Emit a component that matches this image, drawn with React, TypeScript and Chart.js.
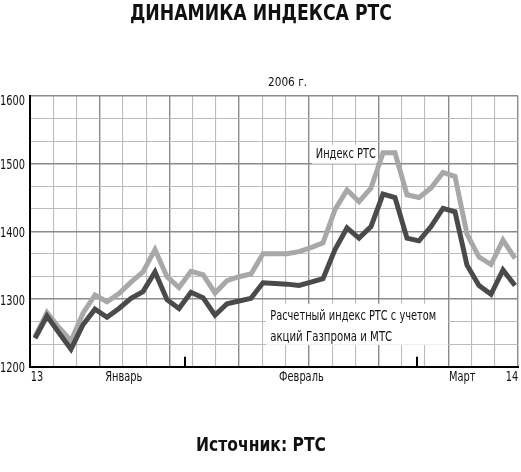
import React, { useEffect, useRef } from "react";
import { Chart, registerables } from "chart.js";

Chart.register(...registerables);

// Trading days, 13 Jan – 14 Mar 2006
const tradingDays = [
  "13.01", "16.01", "17.01", "18.01", "19.01", "20.01", "23.01", "24.01", "25.01", "26.01", "27.01", "30.01", "31.01",
  "01.02", "02.02", "03.02", "06.02", "07.02", "08.02", "09.02", "10.02", "13.02", "14.02", "15.02", "16.02", "17.02",
  "20.02", "21.02", "22.02", "24.02", "27.02", "28.02",
  "01.03", "02.03", "03.03", "06.03", "07.03", "09.03", "10.03", "13.03", "14.03",
];

// Индекс РТС
const rtsIndex = [
  1244, 1280, 1258, 1238, 1279, 1306, 1296, 1308, 1325, 1340, 1373, 1333, 1317,
  1341, 1336, 1309, 1327, 1333, 1337, 1367, 1367, 1367, 1370, 1376, 1383, 1432,
  1461, 1444, 1464, 1516, 1516, 1454,
  1450, 1464, 1487, 1481, 1396, 1362, 1351, 1387, 1360,
];

// Расчетный индекс РТС с учетом акций Газпрома и МТС
const rtsAdjusted = [
  1242, 1275, 1250, 1226, 1262, 1285, 1273, 1286, 1301, 1311, 1340, 1299, 1286,
  1310, 1302, 1276, 1293, 1297, 1301, 1324, 1323, 1322, 1320, 1325, 1330, 1373,
  1405, 1390, 1407, 1455, 1450, 1390,
  1386, 1407, 1434, 1429, 1350, 1320, 1307, 1343, 1320,
];

const yTickValues = [1200, 1300, 1400, 1500, 1600];
const xTickLabels = ["13", "Январь", "Февраль", "Март", "14"];
const xTickPositions = [0.17, 7.4, 22.2, 35.6, 39.75];
const monthBoundaries = [12.5, 31.8];

const titleText = "ДИНАМИКА ИНДЕКСА РТС";
const yearText = "2006 г.";
const sourceText = "Источник: РТС";
const seriesLabel1 = "Индекс РТС";
const seriesLabel2Lines = ["Расчетный индекс РТС с учетом", "акций Газпрома и МТС"];

const FONT = "'Liberation Sans Narrow', 'DejaVu Sans Condensed', 'Liberation Sans', sans-serif";
const TICK_SCALE = 0.78;

function drawText(
  ctx: CanvasRenderingContext2D,
  text: string,
  x: number,
  y: number,
  font: string,
  opts: { width?: number; scale?: number; align: "left" | "center" | "right" }
) {
  ctx.save();
  ctx.font = font;
  ctx.textBaseline = "middle";
  ctx.textAlign = "left";
  const w = ctx.measureText(text).width;
  const sx = opts.width ? opts.width / w : opts.scale || 1;
  const drawW = w * sx;
  const left = opts.align === "center" ? x - drawW / 2 : opts.align === "right" ? x - drawW : x;
  ctx.translate(left, y);
  ctx.scale(sx, 1);
  ctx.fillText(text, 0, 0);
  ctx.restore();
}

const decorPlugin = {
  id: "decor",
  beforeDatasetsDraw(chart: any) {
    const ctx = chart.ctx as CanvasRenderingContext2D;
    const xs = chart.scales.x;
    const ys = chart.scales.y;
    ctx.save();
    ctx.fillStyle = "#ffffff";
    // label boxes (hide grid behind text)
    const b1x = xs.getPixelForValue(23.1);
    const b1y = ys.getPixelForValue(1528);
    ctx.fillRect(b1x, b1y, 64, 19);
    const b2x = xs.getPixelForValue(19.25);
    const b2y = ys.getPixelForValue(1293);
    ctx.fillRect(b2x, b2y, 182, 41);
    ctx.restore();
  },
  afterDraw(chart: any) {
    const ctx = chart.ctx as CanvasRenderingContext2D;
    const xs = chart.scales.x;
    const ys = chart.scales.y;
    const area = chart.chartArea;
    ctx.save();
    ctx.fillStyle = "#111111";
    drawText(ctx, titleText, 261, 15, `bold 21px ${FONT}`, { width: 262, align: "center" });
    drawText(ctx, yearText, 287.5, 83, `13px ${FONT}`, { width: 39, align: "center" });
    drawText(ctx, sourceText, 261, 446, `bold 19px ${FONT}`, { width: 130, align: "center" });
    drawText(ctx, seriesLabel1, xs.getPixelForValue(23.4), ys.getPixelForValue(1514), `14px ${FONT}`, { width: 60, align: "left" });
    drawText(ctx, seriesLabel2Lines[0], xs.getPixelForValue(19.6), ys.getPixelForValue(1275), `14px ${FONT}`, { width: 166, align: "left" });
    drawText(ctx, seriesLabel2Lines[1], xs.getPixelForValue(19.6), ys.getPixelForValue(1243), `14px ${FONT}`, { width: 122, align: "left" });

    // y tick labels
    for (const v of yTickValues) {
      const py = Math.max(ys.getPixelForValue(v) + 2, area.top + 5);
      drawText(ctx, String(v), area.left - 5, py, `14px ${FONT}`, { scale: TICK_SCALE, align: "right" });
    }
    // x tick labels
    xTickPositions.forEach((p, i) => {
      drawText(ctx, xTickLabels[i], xs.getPixelForValue(p), area.bottom + 11, `14px ${FONT}`, { scale: TICK_SCALE, align: "center" });
    });

    // month boundary ticks
    ctx.strokeStyle = "#000000";
    ctx.lineWidth = 2;
    for (const m of monthBoundaries) {
      const px = Math.round(xs.getPixelForValue(m));
      ctx.beginPath();
      ctx.moveTo(px, area.bottom);
      ctx.lineTo(px, area.bottom - 10);
      ctx.stroke();
    }
    ctx.restore();
  },
};

const gridColor = (ctx: any) => (ctx.tick && ctx.tick.value % 3 === 0 ? "#8a8a8a" : "#bcbcbc");
const gridWidth = (ctx: any) => (ctx.tick && ctx.tick.value % 3 === 0 ? 1.4 : 1.1);

export default function App() {
  const ref = useRef<HTMLCanvasElement | null>(null);
  useEffect(() => {
    if (!ref.current) return;
    const chart = new Chart(ref.current, {
      type: "line",
      data: {
        datasets: [
          {
            label: seriesLabel2Lines.join(" "),
            data: tradingDays.map((_, i) => ({ x: i, y: rtsAdjusted[i] })),
            borderColor: "#4a4a4a",
            borderWidth: 5,
            pointRadius: 0,
            tension: 0,
            borderJoinStyle: "miter",
            xAxisID: "x",
            yAxisID: "y",
            order: 1,
          },
          {
            label: seriesLabel1,
            data: tradingDays.map((_, i) => ({ x: i, y: rtsIndex[i] })),
            borderColor: "#a8a8a8",
            borderWidth: 5,
            pointRadius: 0,
            tension: 0,
            borderJoinStyle: "miter",
            xAxisID: "x",
            yAxisID: "y",
            order: 2,
          },
        ],
      },
      options: {
        responsive: false,
        animation: false,
        layout: { padding: { top: 96, right: 3, left: 0, bottom: 0 } },
        plugins: { legend: { display: false }, tooltip: { enabled: false }, title: { display: false } },
        scales: {
          xg: {
            type: "linear",
            position: "bottom",
            min: 0,
            max: 21,
            ticks: { display: false, stepSize: 1 },
            grid: { color: gridColor, lineWidth: gridWidth, drawTicks: false },
            border: { display: false },
            afterFit: (s: any) => { s.height = 0; },
          },
          yg: {
            type: "linear",
            position: "left",
            min: 0,
            max: 12,
            ticks: { display: false, stepSize: 1 },
            grid: { color: gridColor, lineWidth: gridWidth, drawTicks: false },
            border: { display: false },
            afterFit: (s: any) => { s.width = 0; },
          },
          x: {
            type: "linear",
            position: "bottom",
            min: -5 / 12,
            max: 483 / 12,
            grid: { display: false, drawTicks: false },
            border: { display: true, color: "#000000", width: 2 },
            ticks: { display: false },
            afterFit: (s: any) => { s.height = 472 - 366.7; },
          },
          y: {
            type: "linear",
            position: "left",
            min: 1200,
            max: 1600,
            grid: { display: false, drawTicks: false },
            border: { display: true, color: "#000000", width: 2 },
            ticks: { display: false },
            afterFit: (s: any) => { s.width = 30; },
          },
        },
      },
      plugins: [decorPlugin],
    } as any);
    return () => chart.destroy();
  }, []);
  return (
    <div style={{ position: "absolute", left: 0, top: 0, width: 521, height: 472, background: "#fff" }}>
      <canvas ref={ref} width={521} height={472} style={{ width: 521, height: 472, display: "block" }} />
    </div>
  );
}
